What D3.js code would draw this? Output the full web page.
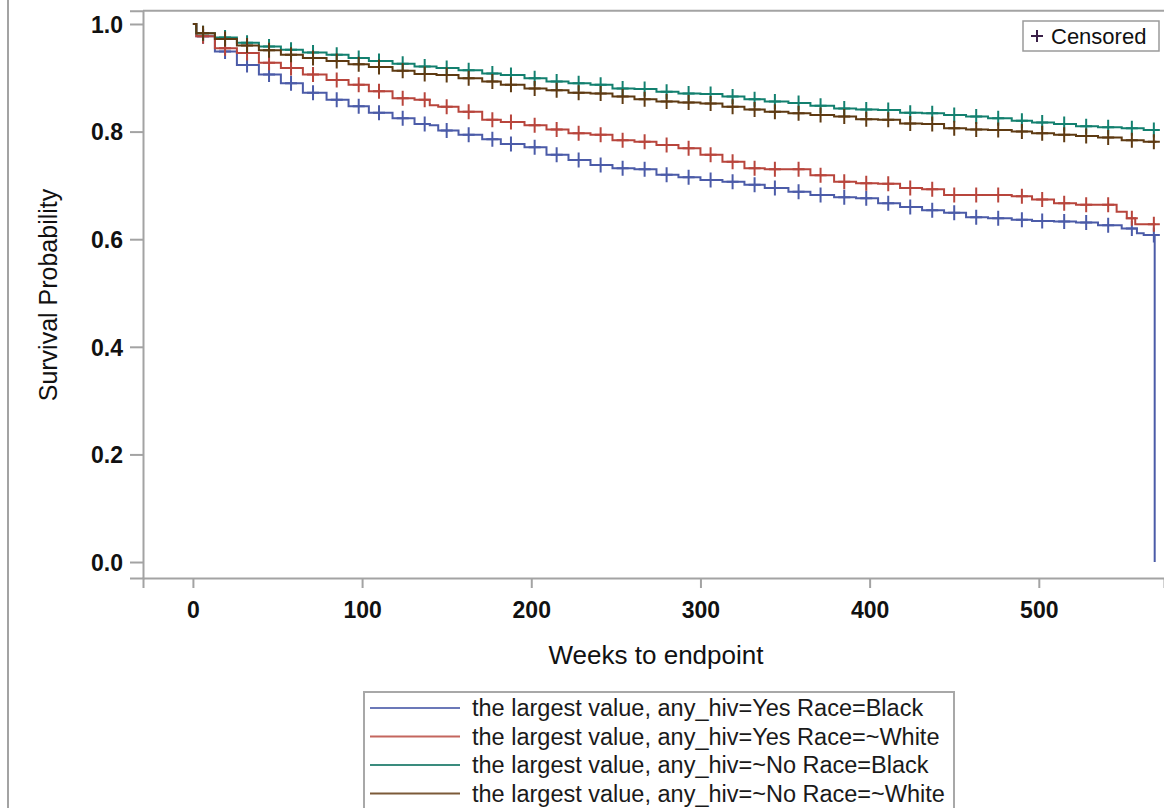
<!DOCTYPE html>
<html>
<head>
<meta charset="utf-8">
<script src="https://cdn.jsdelivr.net/npm/d3@7"></script>
<style>
  html, body { margin: 0; padding: 0; background: #fff; }
  svg { display: block; font-family: "Liberation Sans", Arial, sans-serif; }
</style>
</head>
<body>
<div id="chart"></div>
<script>
// step points [weeks, survival]
const yesBlack = [[0,1],[2,0.977],[13,0.949],[26,0.924],[39,0.906],[52,0.890],[65,0.872],[79,0.859],[92,0.847],[104,0.835],[118,0.825],[131,0.814],[140,0.812],[145,0.802],[157,0.794],[171,0.786],[182,0.777],[196,0.771],[209,0.757],[222,0.747],[235,0.738],[248,0.732],[261,0.730],[274,0.720],[287,0.715],[300,0.710],[313,0.707],[326,0.701],[338,0.695],[352,0.688],[365,0.682],[379,0.678],[392,0.676],[405,0.667],[418,0.660],[431,0.654],[444,0.649],[457,0.641],[470,0.639],[484,0.636],[496,0.634],[509,0.633],[522,0.631],[535,0.626],[549,0.620],[558,0.611],[562,0.608],[568.5,0]];
const yesWhite = [[0,1],[2,0.977],[13,0.955],[26,0.946],[39,0.928],[52,0.918],[65,0.906],[79,0.896],[92,0.887],[104,0.875],[118,0.862],[131,0.859],[140,0.849],[145,0.846],[157,0.837],[171,0.822],[182,0.818],[196,0.812],[209,0.804],[222,0.797],[235,0.794],[248,0.784],[261,0.781],[274,0.775],[287,0.769],[300,0.757],[313,0.744],[326,0.732],[338,0.730],[365,0.719],[379,0.707],[392,0.704],[405,0.703],[418,0.695],[431,0.693],[444,0.682],[484,0.680],[496,0.674],[509,0.667],[522,0.664],[546,0.651],[552,0.639],[557,0.628],[569,0.628]];
const noBlack = [[0,1],[2,0.983],[13,0.975],[26,0.965],[39,0.958],[52,0.952],[65,0.947],[79,0.943],[92,0.937],[104,0.931],[118,0.926],[131,0.921],[144,0.918],[157,0.914],[171,0.908],[182,0.905],[196,0.899],[209,0.893],[222,0.890],[235,0.887],[248,0.880],[261,0.879],[274,0.874],[287,0.871],[300,0.870],[313,0.865],[326,0.860],[338,0.856],[352,0.853],[365,0.848],[379,0.843],[392,0.841],[405,0.840],[418,0.835],[431,0.834],[444,0.831],[457,0.828],[470,0.825],[484,0.820],[496,0.817],[509,0.814],[522,0.810],[535,0.808],[549,0.806],[562,0.803],[569.5,0.803]];
const noWhite = [[0,1],[2,0.983],[13,0.972],[26,0.960],[39,0.951],[52,0.943],[65,0.937],[79,0.931],[92,0.925],[104,0.920],[118,0.913],[131,0.907],[144,0.905],[157,0.899],[171,0.893],[182,0.887],[196,0.880],[209,0.877],[222,0.872],[235,0.871],[248,0.865],[261,0.860],[274,0.856],[287,0.854],[300,0.852],[313,0.846],[326,0.841],[338,0.837],[352,0.834],[365,0.831],[379,0.828],[392,0.823],[405,0.822],[418,0.815],[431,0.814],[444,0.806],[457,0.804],[470,0.803],[484,0.800],[496,0.797],[509,0.794],[522,0.792],[535,0.789],[549,0.784],[562,0.781],[569.5,0.781]];

// weeks where the censor marks sit
const censorWeeks = [6,19,32,45,58,71,85,98,110,124,137,150,163,177,188,202,215,228,241,254,267,280,293,306,319,332,344,358,371,385,398,411,424,437,450,463,476,490,502,515,528,541,555,568];

const seriesNames = [
  "the largest value, any_hiv=Yes Race=Black",
  "the largest value, any_hiv=Yes Race=~White",
  "the largest value, any_hiv=~No Race=Black",
  "the largest value, any_hiv=~No Race=~White"
];
const seriesColors = ["#4b5ba8", "#b8453c", "#13806f", "#5e3a12"];
const legendColors = ["#6b78b8", "#c4665e", "#3a8c7e", "#7c5a38"];
const seriesData = [yesBlack, yesWhite, noBlack, noWhite];

const xTicks = [0, 100, 200, 300, 400, 500];
const yTicks = [0, 0.2, 0.4, 0.6, 0.8, 1.0];

const W = 1164, H = 808;
const axisColor = "#a3a3a3";

const svg = d3.select("#chart")
  .append("svg")
  .attr("width", W)
  .attr("height", H);

// outer frame line on the left
svg.append("line")
  .attr("x1", 8).attr("x2", 8)
  .attr("y1", 0).attr("y2", H)
  .attr("stroke", axisColor)
  .attr("stroke-width", 2);

const xScale = d3.scaleLinear().domain([-29.5, 574]).range([143, 1164]);
const yScale = d3.scaleLinear().domain([-0.0297, 1.0247]).range([578, 10.7]);

// top border of plot
svg.append("line")
  .attr("x1", 143).attr("x2", W)
  .attr("y1", 10.7).attr("y2", 10.7)
  .attr("stroke", axisColor)
  .attr("stroke-width", 2);

// X axis
const xAxis = d3.axisBottom(xScale).tickValues(xTicks).tickSizeOuter(0).tickSize(10).tickPadding(14);
const gx = svg.append("g")
  .attr("transform", "translate(0,578)")
  .call(xAxis);

// Y axis
const yAxis = d3.axisLeft(yScale).tickValues(yTicks).tickSizeOuter(0).tickSize(13).tickPadding(7)
  .tickFormat(d3.format(".1f"));
const gy = svg.append("g")
  .attr("transform", "translate(143,0)")
  .call(yAxis);

[gx, gy].forEach(g => {
  g.select(".domain").attr("stroke", axisColor).attr("stroke-width", 2);
  g.selectAll(".tick line").attr("stroke", axisColor).attr("stroke-width", 2);
  g.selectAll(".tick text")
    .attr("fill", "#111")
    .style("font-size", "23px")
    .style("font-weight", "bold")
    .style("font-family", "'Liberation Sans', Arial, sans-serif");
});
gy.selectAll(".tick text").attr("dy", "0.36em");

// axis titles
svg.append("text")
  .attr("x", 656)
  .attr("y", 664)
  .attr("text-anchor", "middle")
  .attr("fill", "#111")
  .style("font-size", "26px")
  .text("Weeks to endpoint");

svg.append("text")
  .attr("transform", "translate(57,295) rotate(-90)")
  .attr("text-anchor", "middle")
  .attr("fill", "#111")
  .style("font-size", "25px")
  .text("Survival Probability");

// survival curves
const line = d3.line()
  .x(d => xScale(d[0]))
  .y(d => yScale(d[1]))
  .curve(d3.curveStepAfter);

const levelAt = (data, t) => {
  let v = data[0][1];
  for (const p of data) { if (p[0] <= t) v = p[1]; }
  return v;
};

seriesData.forEach((data, i) => {
  svg.append("path")
    .datum(data)
    .attr("fill", "none")
    .attr("stroke", seriesColors[i])
    .attr("stroke-width", 2)
    .attr("d", line);

  const marks = censorWeeks.filter(t => t <= data[data.length - 1][0]);
  svg.append("g")
    .selectAll("path")
    .data(marks)
    .enter()
    .append("path")
    .attr("d", t => {
      const x = xScale(t), y = yScale(levelAt(data, t));
      return `M${x - 6},${y}h12M${x},${y - 7.5}v15`;
    })
    .attr("stroke", seriesColors[i])
    .attr("stroke-width", 2)
    .attr("fill", "none");
});

// censored key
svg.append("rect")
  .attr("x", 1023).attr("y", 21)
  .attr("width", 136).attr("height", 30)
  .attr("fill", "#fff")
  .attr("stroke", "#9a9a9a")
  .attr("stroke-width", 1.5);
svg.append("path")
  .attr("d", "M1031,36h12M1037,30v12")
  .attr("stroke", "#3a2048")
  .attr("stroke-width", 2);
svg.append("text")
  .attr("x", 1051).attr("y", 44)
  .attr("fill", "#111")
  .style("font-size", "22px")
  .text("Censored");

// bottom legend
const legend = svg.append("g");
legend.append("rect")
  .attr("x", 364).attr("y", 692)
  .attr("width", 590).attr("height", 130)
  .attr("fill", "#fff")
  .attr("stroke", "#a8a8a8")
  .attr("stroke-width", 2);

const rows = legend.selectAll("g.row")
  .data(seriesNames)
  .enter()
  .append("g")
  .attr("class", "row")
  .attr("transform", (d, i) => `translate(0,${708 + i * 28.5})`);

rows.append("line")
  .attr("x1", 370).attr("x2", 460)
  .attr("y1", 0).attr("y2", 0)
  .attr("stroke", (d, i) => legendColors[i])
  .attr("stroke-width", 2);

rows.append("text")
  .attr("x", 472)
  .attr("y", 8)
  .attr("fill", "#1a1a1a")
  .style("font-size", "23.5px")
  .text(d => d);
</script>
</body>
</html>
